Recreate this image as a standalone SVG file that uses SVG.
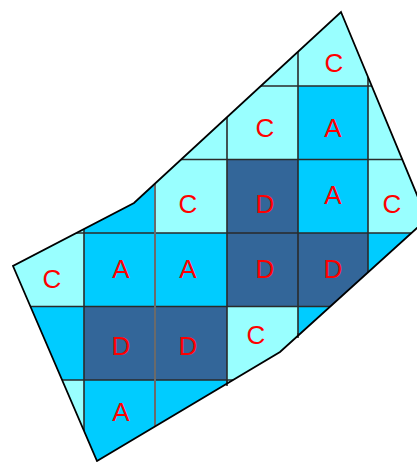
<svg xmlns="http://www.w3.org/2000/svg" width="417" height="462" viewBox="0 0 417 462">
<style>
.l{fill:#99FFFF}.a{fill:#00CCFF}.d{fill:#336699}
.t{font-family:"Liberation Sans",Arial,sans-serif;font-size:26px;fill:#FF0000;text-anchor:middle}
.g{stroke:#2a2a2a;stroke-width:1.6;fill:none}
.g2{stroke:#6a6a6a;stroke-width:2;fill:none}
.o{stroke:#000;stroke-width:1.8;fill:none;stroke-linejoin:miter}
</style>
<defs>
<clipPath id="clip"><polygon points="341,12 427,219 280,352 97,461 13,266 134,203"/></clipPath>
</defs>
<rect width="417" height="462" fill="#fff"/>
<g clip-path="url(#clip)">
<g id="r0c3"><rect class="l" x="227" y="0" width="71" height="86"/></g>
<g id="r0c4"><rect class="l" x="298" y="0" width="70" height="86"/><text class="t" x="334" y="72">C</text></g>
<g id="r0c5"><rect class="l" x="368" y="0" width="71" height="86"/></g>
<g id="r1c2"><rect class="l" x="155" y="86" width="72" height="73.5"/></g>
<g id="r1c3"><rect class="l" x="227" y="86" width="71" height="73.5"/><text class="t" x="265" y="137">C</text></g>
<g id="r1c4"><rect class="a" x="298" y="86" width="70" height="73.5"/><text class="t" x="333" y="137">A</text></g>
<g id="r1c5"><rect class="l" x="368" y="86" width="71" height="73.5"/></g>
<g id="r2c0"><rect class="l" x="0" y="159.5" width="84" height="73.5"/></g>
<g id="r2c1"><rect class="a" x="84" y="159.5" width="71" height="73.5"/></g>
<g id="r2c2"><rect class="l" x="155" y="159.5" width="72" height="73.5"/><text class="t" x="188" y="213">C</text></g>
<g id="r2c3"><rect class="d" x="227" y="159.5" width="71" height="73.5"/><text class="t" x="265" y="213">D</text></g>
<g id="r2c4"><rect class="a" x="298" y="159.5" width="70" height="73.5"/><text class="t" x="333" y="204">A</text></g>
<g id="r2c5"><rect class="l" x="368" y="159.5" width="71" height="73.5"/><text class="t" x="392" y="213">C</text></g>
<g id="r3c0"><rect class="l" x="0" y="233" width="84" height="73.5"/><text class="t" x="52" y="288">C</text></g>
<g id="r3c1"><rect class="a" x="84" y="233" width="71" height="73.5"/><text class="t" x="121" y="278">A</text></g>
<g id="r3c2"><rect class="a" x="155" y="233" width="72" height="73.5"/><text class="t" x="188" y="278">A</text></g>
<g id="r3c3"><rect class="d" x="227" y="233" width="71" height="73.5"/><text class="t" x="265" y="278">D</text></g>
<g id="r3c4"><rect class="d" x="298" y="233" width="70" height="73.5"/><text class="t" x="333" y="278">D</text></g>
<g id="r3c5"><rect class="a" x="368" y="233" width="71" height="73.5"/></g>
<g id="r4c0"><rect class="a" x="0" y="306.5" width="84" height="73.5"/></g>
<g id="r4c1"><rect class="d" x="84" y="306.5" width="71" height="73.5"/><text class="t" x="121" y="355">D</text></g>
<g id="r4c2"><rect class="d" x="155" y="306.5" width="72" height="73.5"/><text class="t" x="188" y="355">D</text></g>
<g id="r4c3"><rect class="l" x="227" y="306.5" width="71" height="73.5"/><text class="t" x="256" y="344">C</text></g>
<g id="r4c4"><rect class="a" x="298" y="306.5" width="70" height="73.5"/></g>
<g id="r5c0"><rect class="l" x="0" y="380" width="84" height="82"/></g>
<g id="r5c1"><rect class="a" x="84" y="380" width="71" height="82"/><text class="t" x="121" y="421">A</text></g>
<g id="r5c2"><rect class="a" x="155" y="380" width="72" height="82"/></g>
<g id="r5c3"><rect class="l" x="227" y="380" width="71" height="82"/></g>
</g>
<g id="connectors">
<g clip-path="url(#clip)">
<path class="g" d="M84,0V462M227,0V462M298,0V462M368,0V462M0,86H417M0,159.5H417M0,233H417M0,306.5H417M0,380H417"/>
<path class="g2" d="M155,0V462"/>
</g>
<path class="g" d="M298,333V338M227,380V386"/>
<polygon class="o" points="341,12 427,219 280,352 97,461 13,266 134,203"/>
</g>
</svg>
